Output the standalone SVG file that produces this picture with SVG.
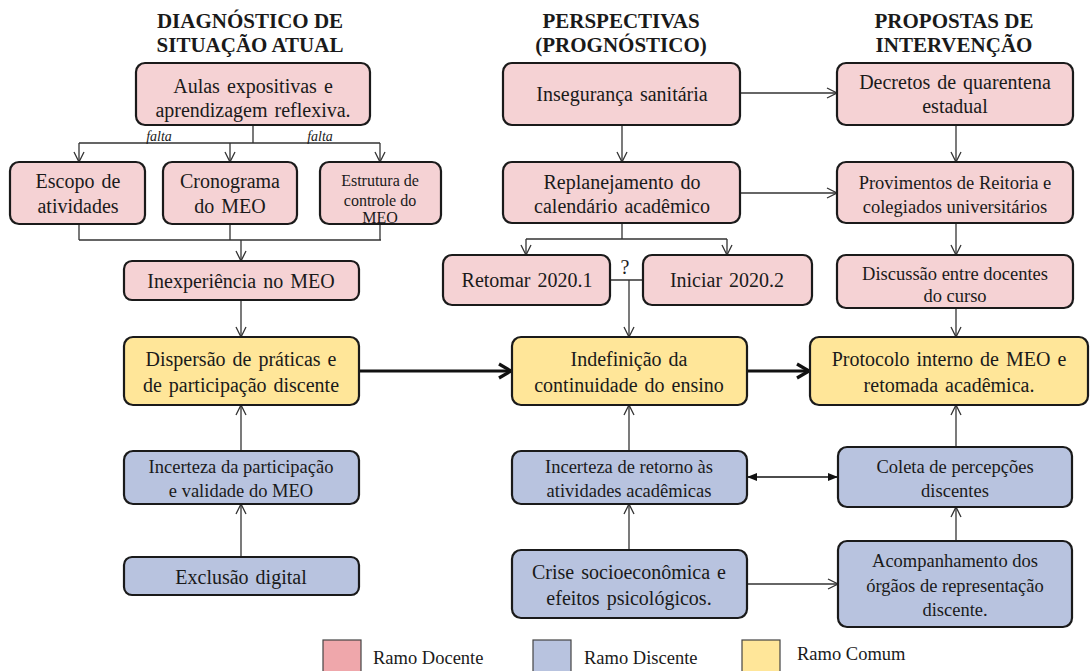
<svg xmlns="http://www.w3.org/2000/svg" width="1092" height="671" viewBox="0 0 1092 671">
<defs>
<style>
text{font-family:"Liberation Serif","Times New Roman",serif;fill:#1a1a1a;text-anchor:middle;}
.h{font-weight:bold;font-size:21px;}
.t{font-size:20px;word-spacing:2px;}
.s{font-size:18.5px;}
.xs{font-size:16px;}
.lg{font-size:18.5px;text-anchor:start;}
.pk{fill:#F5D2D4;stroke:#1a1a1a;stroke-width:2.2;}
.bl{fill:#B8C3DF;stroke:#1a1a1a;stroke-width:2.2;}
.yl{fill:#FFE699;stroke:#1a1a1a;stroke-width:2.2;}
.c{fill:none;stroke:#333;stroke-width:1.3;}
.a{fill:none;stroke:#333;stroke-width:1.3;marker-end:url(#ah);}
.th{fill:none;stroke:#111;stroke-width:3.2;marker-end:url(#ath);}
.fa{font-size:14px;font-style:italic;}
</style>
<marker id="ah" markerUnits="userSpaceOnUse" viewBox="0 0 12 12" refX="11" refY="6" markerWidth="12" markerHeight="12" orient="auto">
<path d="M1,1 L11,6 L1,11" fill="none" stroke="#333" stroke-width="1.3"/>
</marker>
<marker id="ath" markerUnits="userSpaceOnUse" viewBox="0 0 16 18" refX="14" refY="9" markerWidth="16" markerHeight="18" orient="auto">
<path d="M2,2 L14,9 L2,16" fill="none" stroke="#111" stroke-width="3.2"/>
</marker>
<marker id="fh" markerUnits="userSpaceOnUse" viewBox="0 0 10 10" refX="9" refY="5" markerWidth="10" markerHeight="10" orient="auto-start-reverse">
<path d="M0,1 L10,5 L0,9 Z" fill="#111"/>
</marker>
</defs>
<rect width="1092" height="671" fill="#fff"/>

<g id="headers">
<text class="h" x="250" y="28">DIAGNÓSTICO DE</text>
<text class="h" x="250" y="52">SITUAÇÃO ATUAL</text>
<text class="h" x="621" y="28">PERSPECTIVAS</text>
<text class="h" x="621" y="52">(PROGNÓSTICO)</text>
<text class="h" x="954" y="28">PROPOSTAS DE</text>
<text class="h" x="954" y="52">INTERVENÇÃO</text>
</g>

<g id="connectors">
<path class="c" d="M253,125 V143 M79,143 H380"/>
<path class="a" d="M79,143 V162"/>
<path class="a" d="M230,143 V162"/>
<path class="a" d="M380,143 V162"/>
<path class="c" d="M79,224 V240 M230,224 V240 M380,224 V240 M79,240 H381"/>
<path class="a" d="M241,240 V261"/>
<path class="a" d="M241,300 V337"/>
<path class="a" d="M241,451 V405"/>
<path class="a" d="M241,557 V504"/>
<path class="th" d="M359,371 H511"/>
<path class="th" d="M747,371 H809"/>
<path class="a" d="M740,93 H837"/>
<path class="a" d="M622,125 V162"/>
<path class="a" d="M740,193 H837"/>
<path class="c" d="M622,223 V239 M526,239 H727"/>
<path class="a" d="M526,239 V255"/>
<path class="a" d="M727,239 V255"/>
<path class="c" d="M610,280 H643"/>
<path class="a" d="M629,280 V337"/>
<path class="a" d="M956,125 V162"/>
<path class="a" d="M956,223 V255"/>
<path class="a" d="M956,308 V337"/>
<path class="a" d="M629,451 V405"/>
<path class="a" d="M629,550 V504"/>
<path d="M748,477 H837" fill="none" stroke="#111" stroke-width="1.3" marker-start="url(#fh)" marker-end="url(#fh)"/>
<path class="a" d="M956,447 V405"/>
<path class="a" d="M956,541 V507"/>
<path class="a" d="M747,584 H838"/>
<text class="fa" x="159" y="141">falta</text>
<text class="fa" x="320" y="141">falta</text>
<text class="t" x="625" y="274">?</text>
</g>

<g id="n-aulas"><rect class="pk" x="136" y="63" width="234" height="62" rx="9"/>
<text class="t" x="253" y="93">Aulas expositivas e</text><text class="t" x="253" y="117">aprendizagem reflexiva.</text></g>
<g id="n-escopo"><rect class="pk" x="10" y="162" width="135" height="62" rx="9"/>
<text class="t" x="78" y="188">Escopo de</text><text class="t" x="78" y="213">atividades</text></g>
<g id="n-cronograma"><rect class="pk" x="163" y="162" width="134" height="62" rx="9"/>
<text class="t" x="230" y="188">Cronograma</text><text class="t" x="230" y="213">do MEO</text></g>
<g id="n-estrutura"><rect class="pk" x="320" y="162" width="121" height="62" rx="9"/>
<text class="xs" x="380" y="186">Estrutura de</text><text class="xs" x="380" y="206">controle do</text><text class="xs" x="380" y="223">MEO</text></g>
<g id="n-inexperiencia"><rect class="pk" x="124" y="261" width="235" height="39" rx="8"/>
<text class="t" x="241" y="288">Inexperiência no MEO</text></g>
<g id="n-dispersao"><rect class="yl" x="124" y="337" width="235" height="68" rx="9"/>
<text class="t" x="241" y="366">Dispersão de práticas e</text><text class="t" x="241" y="392">de participação discente</text></g>
<g id="n-incerteza-part"><rect class="bl" x="124" y="451" width="235" height="53" rx="9"/>
<text class="s" x="241" y="473">Incerteza da participação</text><text class="s" x="241" y="497">e validade do MEO</text></g>
<g id="n-exclusao"><rect class="bl" x="124" y="557" width="235" height="38" rx="8"/>
<text class="t" x="241" y="584">Exclusão digital</text></g>

<g id="n-inseguranca"><rect class="pk" x="503" y="63" width="237" height="62" rx="9"/>
<text class="t" x="622" y="101">Insegurança sanitária</text></g>
<g id="n-replanejamento"><rect class="pk" x="503" y="162" width="237" height="61" rx="9"/>
<text class="t" x="622" y="189">Replanejamento do</text><text class="t" x="622" y="213">calendário acadêmico</text></g>
<g id="n-retomar"><rect class="pk" x="443" y="255" width="167" height="50" rx="9"/>
<text class="t" x="527" y="287">Retomar 2020.1</text></g>
<g id="n-iniciar"><rect class="pk" x="643" y="255" width="169" height="50" rx="9"/>
<text class="t" x="727" y="287">Iniciar 2020.2</text></g>
<g id="n-indefinicao"><rect class="yl" x="512" y="337" width="235" height="68" rx="9"/>
<text class="t" x="629" y="366">Indefinição da</text><text class="t" x="629" y="392">continuidade do ensino</text></g>
<g id="n-incerteza-ret"><rect class="bl" x="512" y="451" width="235" height="53" rx="9"/>
<text class="s" x="629" y="473">Incerteza de retorno às</text><text class="s" x="629" y="497">atividades acadêmicas</text></g>
<g id="n-crise"><rect class="bl" x="512" y="550" width="235" height="68" rx="9"/>
<text class="t" x="629" y="579">Crise socioeconômica e</text><text class="t" x="629" y="605">efeitos psicológicos.</text></g>

<g id="n-decretos"><rect class="pk" x="837" y="63" width="236" height="62" rx="9"/>
<text class="t" x="955" y="89">Decretos de quarentena</text><text class="t" x="955" y="113">estadual</text></g>
<g id="n-provimentos"><rect class="pk" x="837" y="162" width="236" height="61" rx="9"/>
<text class="s" x="955" y="189">Provimentos de Reitoria e</text><text class="s" x="955" y="213">colegiados universitários</text></g>
<g id="n-discussao"><rect class="pk" x="837" y="255" width="236" height="53" rx="9"/>
<text class="s" x="955" y="280">Discussão entre docentes</text><text class="s" x="955" y="302">do curso</text></g>
<g id="n-protocolo"><rect class="yl" x="810" y="337" width="278" height="68" rx="9"/>
<text class="t" x="949" y="366">Protocolo interno de MEO e</text><text class="t" x="949" y="392">retomada acadêmica.</text></g>
<g id="n-coleta"><rect class="bl" x="838" y="447" width="234" height="60" rx="9"/>
<text class="s" x="955" y="473">Coleta de percepções</text><text class="s" x="955" y="497">discentes</text></g>
<g id="n-acompanhamento"><rect class="bl" x="838" y="541" width="234" height="86" rx="9"/>
<text class="s" x="955" y="567">Acompanhamento dos</text><text class="s" x="955" y="592">órgãos de representação</text><text class="s" x="955" y="616">discente.</text></g>

<g id="legend">
<rect x="323" y="640" width="38" height="34" fill="#EFA7AB" stroke="#444" stroke-width="1.2"/>
<text class="lg" x="373" y="664">Ramo Docente</text>
<rect x="533" y="640" width="38" height="34" fill="#B8C3DF" stroke="#444" stroke-width="1.2"/>
<text class="lg" x="584" y="664">Ramo Discente</text>
<rect x="742" y="640" width="38" height="34" fill="#FFE699" stroke="#444" stroke-width="1.2"/>
<text class="lg" x="797" y="660">Ramo Comum</text>
</g>
</svg>
